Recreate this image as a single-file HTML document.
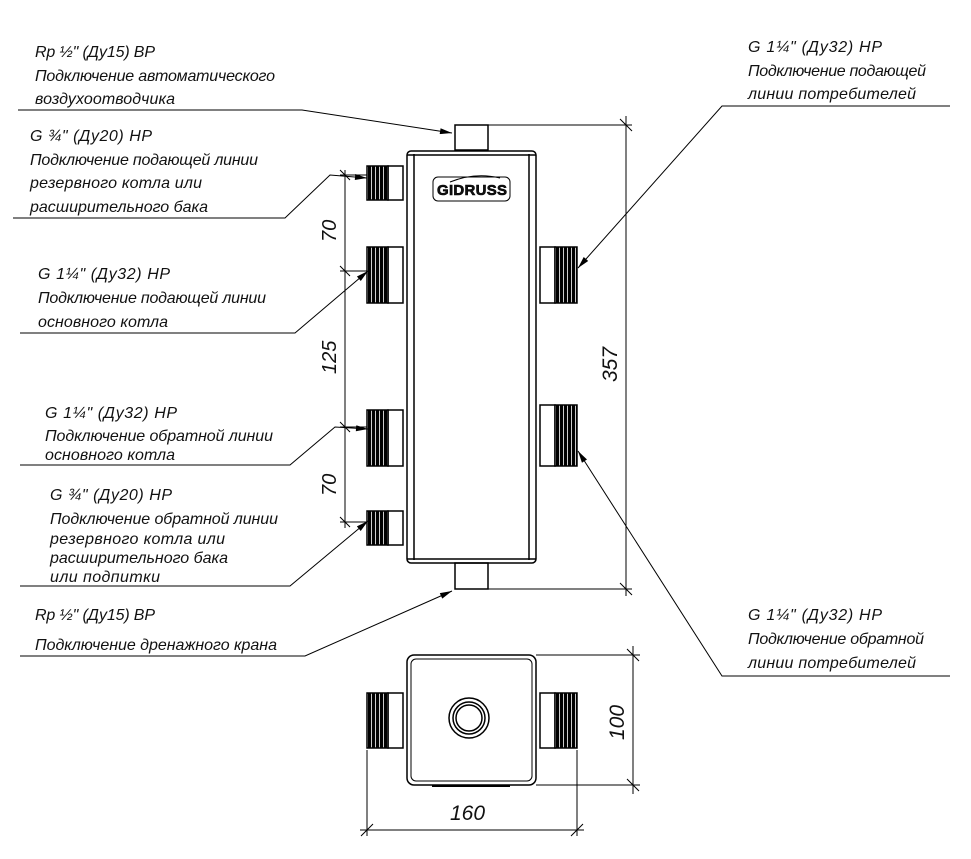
<!DOCTYPE html>
<html><head><meta charset="utf-8"><style>
html,body{margin:0;padding:0;background:#fff;}
svg text{font-family:"Liberation Sans Narrow","Liberation Sans",sans-serif;font-style:italic;font-size:16px;fill:#111;}
</style></head><body>
<svg width="971" height="854" viewBox="0 0 971 854" xmlns="http://www.w3.org/2000/svg">
<defs>
<pattern id="thr" width="4" height="4" patternUnits="userSpaceOnUse"><rect width="4" height="4" fill="#fff"/><rect width="3.2" height="4" fill="#000"/></pattern>
<marker id="ar" viewBox="0 0 12 6" refX="12" refY="3" markerWidth="14" markerHeight="6" orient="auto" markerUnits="userSpaceOnUse"><path d="M0,0 L12,3 L0,6 Z" fill="#000"/></marker>
</defs>
<g stroke="#000" fill="none" stroke-width="1.5">
<rect x="407" y="151" width="129" height="412" rx="4"/>
<line x1="414" y1="154" x2="414" y2="560"/><line x1="529" y1="154" x2="529" y2="560"/>
<line x1="407" y1="155" x2="536" y2="155"/><line x1="407" y1="559" x2="536" y2="559"/>
<rect x="455" y="125" width="33" height="25"/>
<rect x="455" y="563" width="33" height="26"/>
<rect x="433" y="177" width="77" height="24" rx="5" stroke-width="1"/>
</g>
<text x="437" y="195" style="font-size:15px;font-style:normal;font-weight:bold" fill="none" stroke="#000" stroke-width="0.6" textLength="70">GIDRUSS</text>
<path d="M450,182 Q475,172 500,178" stroke="#000" fill="none"/>
<g stroke="#000" stroke-width="1.5">
<rect x="388" y="166" width="15" height="34" fill="#fff"/><rect x="367" y="166" width="21" height="34" fill="url(#thr)"/>
<rect x="388" y="247" width="15" height="56" fill="#fff"/><rect x="367" y="247" width="21" height="56" fill="url(#thr)"/>
<rect x="388" y="410" width="15" height="56" fill="#fff"/><rect x="367" y="410" width="21" height="56" fill="url(#thr)"/>
<rect x="388" y="511" width="15" height="34" fill="#fff"/><rect x="367" y="511" width="21" height="34" fill="url(#thr)"/>
<rect x="540" y="247" width="15" height="56" fill="#fff"/><rect x="555" y="247" width="22" height="56" fill="url(#thr)"/>
<rect x="540" y="405" width="15" height="61" fill="#fff"/><rect x="555" y="405" width="22" height="61" fill="url(#thr)"/>
</g>
<g stroke="#000" stroke-width="1" fill="none">
<line x1="345" y1="170" x2="345" y2="528"/>
<line x1="340" y1="175" x2="367" y2="175"/><line x1="340" y1="271" x2="367" y2="271"/>
<line x1="340" y1="427" x2="367" y2="427"/><line x1="340" y1="522" x2="367" y2="522"/>
<path d="M340,170 l10,10 M340,266 l10,10 M340,422 l10,10 M340,517 l10,10"/>
<line x1="488" y1="125" x2="632" y2="125"/><line x1="488" y1="589" x2="632" y2="589"/>
<line x1="626" y1="116" x2="626" y2="596"/>
<path d="M620,119 l12,12 M620,583 l12,12"/>
<line x1="536" y1="655" x2="640" y2="655"/><line x1="536" y1="785" x2="640" y2="785"/>
<line x1="633" y1="646" x2="633" y2="794"/>
<path d="M627,649 l12,12 M627,779 l12,12"/>
<line x1="367" y1="750" x2="367" y2="836"/><line x1="577" y1="750" x2="577" y2="836"/>
<line x1="360" y1="830" x2="584" y2="830"/>
<path d="M361,836 l12,-12 M571,836 l12,-12"/>
</g>
<g stroke="#000" stroke-width="1.5" fill="none">
<rect x="407" y="655" width="129" height="130" rx="7"/>
<rect x="411" y="659" width="121" height="122" rx="5" stroke-width="1"/>
<line x1="432" y1="786" x2="510" y2="786" stroke-width="2"/>
<circle cx="469" cy="718" r="20"/><circle cx="469" cy="718" r="16"/><circle cx="469" cy="718" r="13"/>
<rect x="388" y="693" width="15" height="55" fill="#fff"/><rect x="367" y="693" width="21" height="55" fill="url(#thr)"/>
<rect x="540" y="693" width="15" height="55" fill="#fff"/><rect x="555" y="693" width="22" height="55" fill="url(#thr)"/>
</g>
<text transform="translate(336,242) rotate(-90)" style="font-size:20px">70</text>
<text transform="translate(336,374) rotate(-90)" style="font-size:20px">125</text>
<text transform="translate(336,496) rotate(-90)" style="font-size:20px">70</text>
<text transform="translate(617,382) rotate(-90)" style="font-size:21px">357</text>
<text transform="translate(624,740) rotate(-90)" style="font-size:21px">100</text>
<text x="450" y="820" style="font-size:21px">160</text>
<g stroke="#000" stroke-width="1" fill="none">
<polyline points="18,110 302,110 452,133" marker-end="url(#ar)"/>
<polyline points="13,218 285,218 330,175 367,178" marker-end="url(#ar)"/>
<polyline points="20,333 295,333 368,271" marker-end="url(#ar)"/>
<polyline points="20,465 290,465 335,427 368,429" marker-end="url(#ar)"/>
<polyline points="20,586 290,586 368,521" marker-end="url(#ar)"/>
<polyline points="20,656 305,656 452,591" marker-end="url(#ar)"/>
<polyline points="950,106 722,106 578,268" marker-end="url(#ar)"/>
<polyline points="950,676 722,676 578,451" marker-end="url(#ar)"/>
</g>
<text x="35" y="57" textLength="120">Rp ½" (Ду15) ВР</text>
<text x="35" y="81" textLength="240">Подключение автоматического</text>
<text x="35" y="104" textLength="140">воздухоотводчика</text>
<text x="30" y="141" textLength="122">G ¾" (Ду20) НР</text>
<text x="30" y="165" textLength="228">Подключение подающей линии</text>
<text x="30" y="188" textLength="172">резервного котла или</text>
<text x="30" y="212" textLength="178">расширительного бака</text>
<text x="38" y="279" textLength="132">G 1¼" (Ду32) НР</text>
<text x="38" y="303" textLength="228">Подключение подающей линии</text>
<text x="38" y="327" textLength="130">основного котла</text>
<text x="45" y="418" textLength="132">G 1¼" (Ду32) НР</text>
<text x="45" y="441" textLength="228">Подключение обратной линии</text>
<text x="45" y="460" textLength="130">основного котла</text>
<text x="50" y="500" textLength="122">G ¾" (Ду20) НР</text>
<text x="50" y="524" textLength="228">Подключение обратной линии</text>
<text x="50" y="544" textLength="175">резервного котла или</text>
<text x="50" y="563" textLength="178">расширительного бака</text>
<text x="50" y="582" textLength="110">или подпитки</text>
<text x="35" y="620" textLength="120">Rp ½" (Ду15) ВР</text>
<text x="35" y="650" textLength="242">Подключение дренажного крана</text>
<text x="748" y="52" textLength="134">G 1¼" (Ду32) НР</text>
<text x="748" y="76" textLength="178">Подключение подающей</text>
<text x="748" y="99" textLength="168">линии потребителей</text>
<text x="748" y="620" textLength="134">G 1¼" (Ду32) НР</text>
<text x="748" y="644" textLength="176">Подключение обратной</text>
<text x="748" y="668" textLength="168">линии потребителей</text>
</svg>
</body></html>
